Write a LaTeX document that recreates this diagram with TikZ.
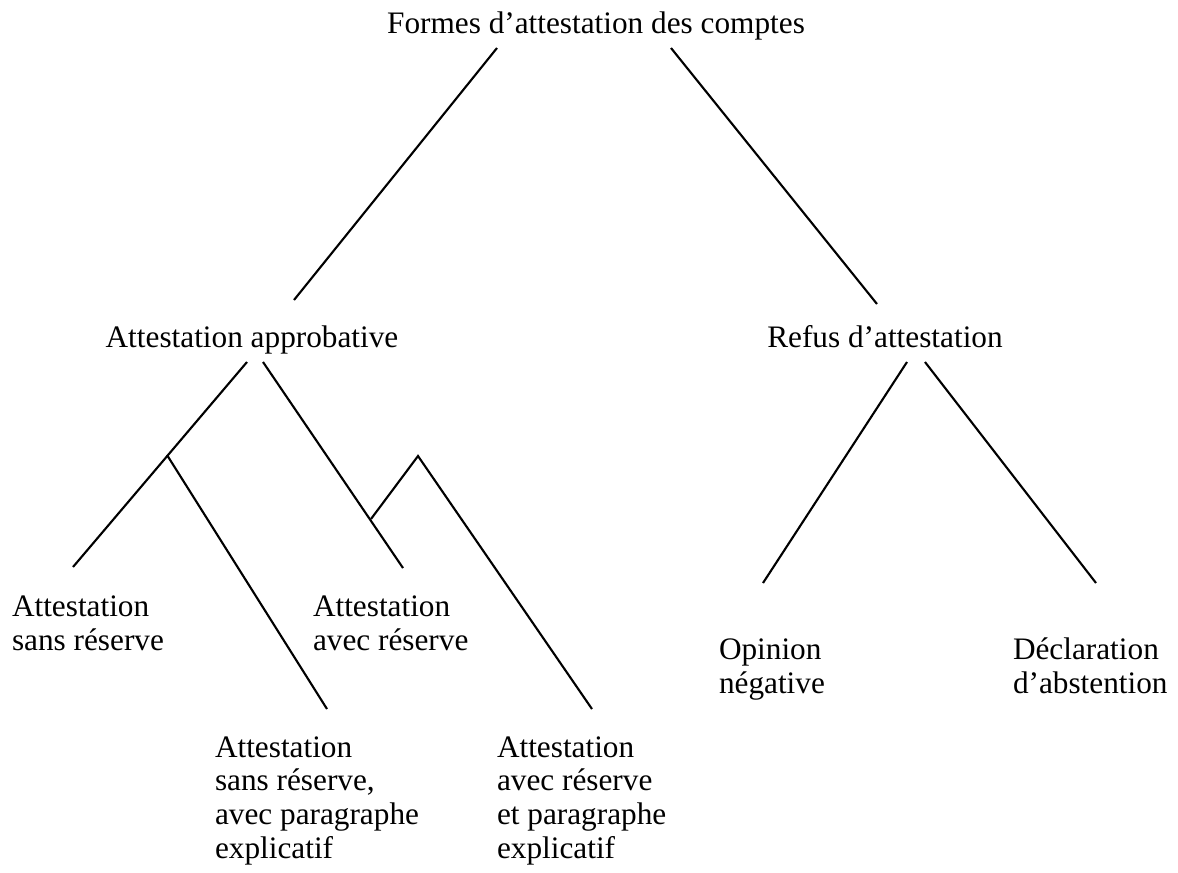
\documentclass[tikz,border=0pt]{standalone}
\usepackage{fontspec}
\setmainfont{Liberation Serif}
\begin{document}
\begin{tikzpicture}[x=0.02cm,y=-0.02cm,
  lbl/.style={inner sep=0pt,outer sep=0pt,align=left,font=\fontsize{17.8pt}{19.1pt}\selectfont},
  conn/.style={draw=black,line width=1.2pt}]
\useasboundingbox (0,0) rectangle (1178,873);
% labels (base anchor = baseline of the last line)
\node[lbl,anchor=base] (root) at (596,33) {Formes d’attestation des comptes};
\node[lbl,anchor=base] (appr) at (252,347) {Attestation approbative};
\node[lbl,anchor=base] (refus) at (885,347) {Refus d’attestation};
\node[lbl,anchor=base west] (asr) at (12,650) {Attestation\\sans réserve};
\node[lbl,anchor=base west] (aar) at (313,650) {Attestation\\avec réserve};
\node[lbl,anchor=base west] (opin) at (719,693) {Opinion\\négative};
\node[lbl,anchor=base west] (decl) at (1013,693) {Déclaration\\d’abstention};
\node[lbl,anchor=base west] (asrp) at (215,858) {Attestation\\sans réserve,\\avec paragraphe\\explicatif};
\node[lbl,anchor=base west] (aarp) at (497,858) {Attestation\\avec réserve\\et paragraphe\\explicatif};
% connector end points
\coordinate (rootL) at (497,48);
\coordinate (rootR) at (671,48);
\coordinate (apprT) at (294,300);
\coordinate (refusT) at (877,304);
\coordinate (apprL) at (247,362);
\coordinate (apprR) at (263,362);
\coordinate (refusL) at (907,362);
\coordinate (refusR) at (925,362);
\coordinate (asrT) at (73,567);
\coordinate (aarT) at (403,568);
\coordinate (b1) at (167,455);
\coordinate (asrpT) at (327,709);
\coordinate (b2) at (371,519);
\coordinate (pk) at (418,456);
\coordinate (aarpT) at (592,709);
\coordinate (opinT) at (763,583);
\coordinate (declT) at (1096,583);
% connectors
\draw[conn] (rootL) -- (apprT);
\draw[conn] (rootR) -- (refusT);
\draw[conn] (apprL) -- (asrT);
\draw[conn] (b1) -- (asrpT);
\draw[conn] (apprR) -- (aarT);
\draw[conn] (b2) -- (pk) -- (aarpT);
\draw[conn] (refusL) -- (opinT);
\draw[conn] (refusR) -- (declT);
\end{tikzpicture}
\end{document}
